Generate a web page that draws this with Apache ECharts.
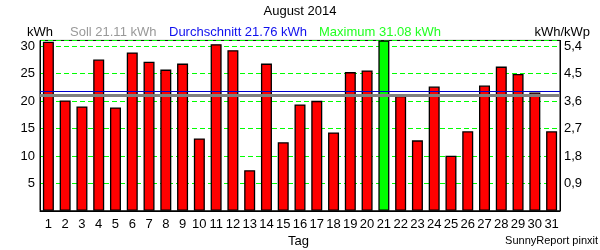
<!DOCTYPE html>
<html>
<head>
<meta charset="utf-8">
<script src="https://cdn.jsdelivr.net/npm/echarts@6/dist/echarts.min.js"></script>
<style>
html,body{margin:0;padding:0;background:#fff;}
#chart{width:600px;height:250px;}
</style>
</head>
<body>
<div id="chart"></div>
<script>
var titleText = 'August 2014';
var days = ['1','2','3','4','5','6','7','8','9','10','11','12','13','14','15','16','17','18','19','20','21','22','23','24','25','26','27','28','29','30','31'];
var energy = [30.85,20.13,19.04,27.6,18.85,28.9,27.2,25.76,26.85,13.2,30.4,29.3,7.4,26.85,12.5,19.4,20.05,14.3,25.3,25.6,31.08,20.96,12.85,22.67,10.05,14.5,22.85,26.3,24.96,21.58,14.5];
var sollValue = 21.11;
var avgValue = 21.76;
var maxValue = 31.08;
var kWp = 30 / 5.4;
var leftTicks = [5,10,15,20,25,30];

var FONT = 'Liberation Sans, Arial, sans-serif';
var chart = echarts.init(document.getElementById('chart'), null, {renderer:'canvas'});
var maxIdx = energy.indexOf(Math.max.apply(null, energy));

var option = {
  backgroundColor: '#fff',
  animation: false,
  title: {
    text: titleText, left: 'center', top: 0,
    textStyle: {fontFamily: FONT, fontSize: 13, fontWeight: 'normal', color: '#000'}
  },
  grid: {left: 40, right: 40, top: 40.43, bottom: 39.25, show: true, borderColor: '#000', borderWidth: 1, backgroundColor: 'transparent'},
  xAxis: {
    type: 'category', data: days,
    axisTick: {show: false},
    splitLine: {show: false},
    axisLine: {lineStyle: {color: '#000'}},
    axisLabel: {fontFamily: FONT, fontSize: 13, color: '#000', margin: 7, interval: 0}
  },
  yAxis: [
    {
      type: 'value', min: 0, max: maxValue, interval: 5,
      axisLine: {show: true, lineStyle: {color: '#000'}},
      axisTick: {show: false},
      axisLabel: {fontFamily: FONT, fontSize: 13, color: '#000', margin: 5, showMinLabel: false, showMaxLabel: false,
        formatter: function(v){ return leftTicks.indexOf(v) >= 0 ? String(v) : ''; }},
      splitLine: {show: true, lineStyle: {color: '#00ff00', type: [5, 3], width: 1, opacity: 1}},
      splitArea: {show: false}
    },
    {
      type: 'value', min: 0, max: maxValue / kWp, interval: 0.9, position: 'right',
      axisLine: {show: true, lineStyle: {color: '#000'}},
      axisTick: {show: false},
      axisLabel: {fontFamily: FONT, fontSize: 13, color: '#000', margin: 4, showMinLabel: false, showMaxLabel: false,
        formatter: function(v){ return v.toFixed(1).replace('.', ','); }},
      splitLine: {show: false},
      splitArea: {show: false}
    }
  ],
  series: [{
    type: 'bar', data: energy, barWidth: 11,
    itemStyle: {
      borderColor: '#000', borderWidth: 1.3,
      color: function(p){ return p.dataIndex === maxIdx ? '#00ff00' : '#ff0000'; }
    },
    markLine: {
      silent: true, symbol: 'none', label: {show: false},
      data: [
        {yAxis: sollValue, lineStyle: {color: '#808080', width: 3, type: 'solid'}},
        {yAxis: avgValue, lineStyle: {color: '#0000cc', width: 1, type: 'solid'}}
      ]
    }
  }],
  graphic: [
    {type: 'text', left: 27, top: 26, style: {text: 'kWh', fontFamily: FONT, fontSize: 13, fill: '#000'}},
    {type: 'text', left: 70, top: 26, style: {text: 'Soll ' + sollValue.toFixed(2) + ' kWh', fontFamily: FONT, fontSize: 13, fill: '#999999'}},
    {type: 'text', left: 169, top: 26, style: {text: 'Durchschnitt ' + avgValue.toFixed(2) + ' kWh', fontFamily: FONT, fontSize: 13, fill: '#1010ee'}},
    {type: 'text', left: 319, top: 26, style: {text: 'Maximum ' + maxValue.toFixed(2) + ' kWh', fontFamily: FONT, fontSize: 13, fill: '#22ff22'}},
    {type: 'text', right: 10, top: 26, style: {text: 'kWh/kWp', fontFamily: FONT, fontSize: 13, fill: '#000'}},
    {type: 'text', left: 288, top: 235, style: {text: 'Tag', fontFamily: FONT, fontSize: 13, fill: '#000'}},
    {type: 'text', right: 2, top: 235, style: {text: 'SunnyReport pinxit', fontFamily: FONT, fontSize: 11, fill: '#000'}}
  ]
};
chart.setOption(option);
</script>
</body>
</html>
